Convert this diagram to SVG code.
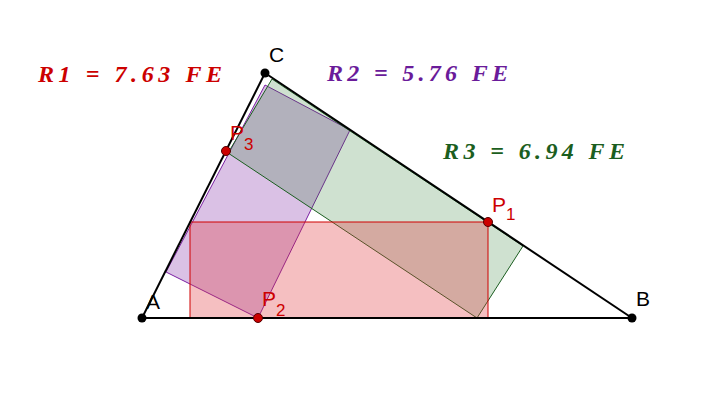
<svg xmlns="http://www.w3.org/2000/svg" width="712" height="417" viewBox="0 0 712 417">
<style>
.lbl{font-family:"Liberation Sans",Arial,sans-serif;font-size:21px}
.eq{font-family:"Liberation Serif","Times New Roman",serif;font-size:24px;font-weight:bold;font-style:italic}
.pt{fill:#cc0000;stroke:#550000;stroke-width:1}
</style>
<rect width="712" height="417" fill="#fff"/>
<g id="shapes">
<polygon id="R2" points="265,85 350,130 258,318 166,272" fill="#7a1fa2" fill-opacity="0.28" stroke="#7a1fa2" stroke-width="1"/>
<polygon id="R3" points="272,79 523,246 477,318 228,153" fill="#2e7d32" fill-opacity="0.23" stroke="#1b5e20" stroke-width="1"/>
<rect id="R1" x="190" y="222" width="298" height="96" fill="#e0393e" fill-opacity="0.32" stroke="#d00000" stroke-width="1"/>
</g>
<g id="connectors" stroke="#000" stroke-width="2" fill="none">
<line x1="142" y1="318" x2="632" y2="318"/>
<line x1="142" y1="318" x2="265" y2="73"/>
<line x1="265" y1="73" x2="632" y2="318"/>
</g>
<g id="A"><circle cx="142" cy="318" r="4.5"/><text class="lbl" x="146" y="309">A</text></g>
<g id="B"><circle cx="632" cy="318" r="4.5"/><text class="lbl" x="636" y="306">B</text></g>
<g id="C"><circle cx="265" cy="73" r="4.5"/><text class="lbl" x="269" y="62">C</text></g>
<g id="P1"><circle class="pt" cx="488" cy="222" r="4.5"/><text class="lbl" x="492" y="212" fill="#cc0000">P<tspan font-size="17" dy="8">1</tspan></text></g>
<g id="P2"><circle class="pt" cx="258" cy="318" r="4.5"/><text class="lbl" x="262" y="306" fill="#cc0000">P<tspan font-size="17" dy="10">2</tspan></text></g>
<g id="P3"><circle class="pt" cx="226" cy="151" r="4.5"/><text class="lbl" x="230" y="140" fill="#cc0000">P<tspan font-size="17" dy="10">3</tspan></text></g>
<text class="eq" x="38" y="82" fill="#cc0000" textLength="184" lengthAdjust="spacing">R1 = 7.63 FE</text>
<text class="eq" x="327" y="81" fill="#6a1b9a" textLength="181" lengthAdjust="spacing">R2 = 5.76 FE</text>
<text class="eq" x="443" y="159" fill="#1b5e20" textLength="182" lengthAdjust="spacing">R3 = 6.94 FE</text>
</svg>
